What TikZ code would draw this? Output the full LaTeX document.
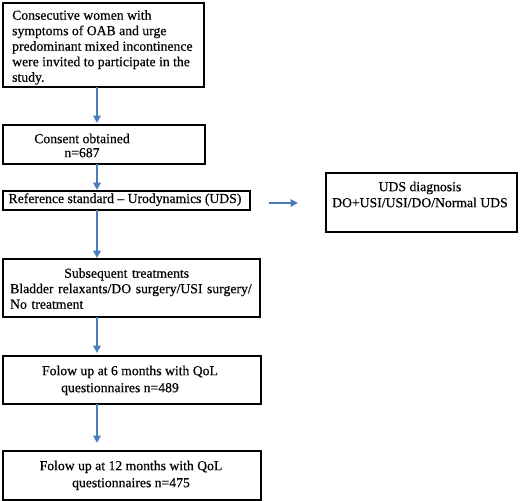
\documentclass[tikz,border=0pt]{standalone}
\usepackage{fontspec}
\setmainfont{Liberation Serif}[FakeBold=0.5]
\usetikzlibrary{arrows.meta}
\definecolor{flowArrowColor}{RGB}{74,126,187}
\begin{document}
\begin{tikzpicture}[x=1pt, y=-1pt]
% flow chart of the study, coordinates in pixels of the page
\providecommand{\flowBoxLineWidth}{1.8pt}
\providecommand{\flowArrowLineWidth}{2pt}
\tikzset{
  flowbox/.style={draw=black, line width=\flowBoxLineWidth, inner sep=0pt, outer sep=0pt},
  flowtext/.style={inner sep=0pt, font=\fontsize{13.7}{15.5}\selectfont},
  flowarrow/.style={draw=flowArrowColor, line width=\flowArrowLineWidth,
    -{Triangle[width=7.5pt,length=7.5pt]}}
}
\useasboundingbox (0,0) rectangle (520,501);
% Boxes
\node[flowbox, minimum width=201pt, minimum height=84pt] (b1) at (103.5,45) {};
\node[flowbox, minimum width=202pt, minimum height=39pt] (b2) at (104,144.5) {};
\node[flowbox, minimum width=247pt, minimum height=19pt] (b3) at (126.5,200.5) {};
\node[flowbox, minimum width=257pt, minimum height=58pt] (b4) at (131.5,288) {};
\node[flowbox, minimum width=258pt, minimum height=48pt] (b5) at (132,380) {};
\node[flowbox, minimum width=258pt, minimum height=49pt] (b6) at (132,475.5) {};
\node[flowbox, minimum width=191pt, minimum height=59pt] (b7) at (421.5,202.5) {};
% Texts
\node[flowtext, align=left, anchor=north west] (t1) at ([shift={(9pt,-7pt)}]b1.north west)
  {Consecutive women with\\symptoms of OAB and urge\\predominant mixed incontinence\\were invited to participate in the\\study.};
\node[flowtext, align=center, anchor=north] (t2) at ([shift={(-22pt,-8.5pt)}]b2.north)
  {Consent obtained\\[-1.5pt]n=687};
\node[flowtext, anchor=base] (t3) at ([shift={(-1.5pt,-2.5pt)}]b3.center)
  {Reference standard -- Urodynamics (UDS)};
\node[flowtext, text width=244pt, align=left, anchor=north west] (t4) at ([shift={(7pt,-9pt)}]b4.north west)
  {{\centering Subsequent treatments\hspace*{11pt}\par}Bladder relaxants/DO surgery/USI surgery/\\No treatment};
\node[flowtext, align=center, anchor=north] (t5) at ([shift={(-2pt,-9.5pt)}]b5.north)
  {Folow up at 6 months with QoL\\[1.5pt]questionnaires n=489\hspace*{20pt}};
\node[flowtext, align=center, anchor=north] (t6) at ([shift={(-1pt,-9.5pt)}]b6.north)
  {Folow up at 12 months with QoL\\[1.5pt]questionnaires n=475};
\node[flowtext, align=center, anchor=north] (t7) at ([shift={(-1.5pt,-8.5pt)}]b7.north)
  {UDS diagnosis\\[0.5pt]DO+USI/USI/DO/Normal UDS};
% Arrows
\draw[flowarrow] ([xshift=94pt]b1.south west) -- ([shift={(94pt,2pt)}]b2.north west);
\draw[flowarrow] ([xshift=94pt]b2.south west) -- ([shift={(94pt,1pt)}]b3.north west);
\draw[flowarrow] ([xshift=94pt]b3.south west) -- ([shift={(94pt,1pt)}]b4.north west);
\draw[flowarrow] ([xshift=94pt]b4.south west) -- ([shift={(94pt,3pt)}]b5.north west);
\draw[flowarrow] ([xshift=94pt]b5.south west) -- ([shift={(94pt,8pt)}]b6.north west);
\draw[flowarrow] ([shift={(19pt,-2.5pt)}]b3.east) -- ([shift={(-28pt,-2.5pt)}]b3.east -| b7.west);
\end{tikzpicture}
\end{document}
